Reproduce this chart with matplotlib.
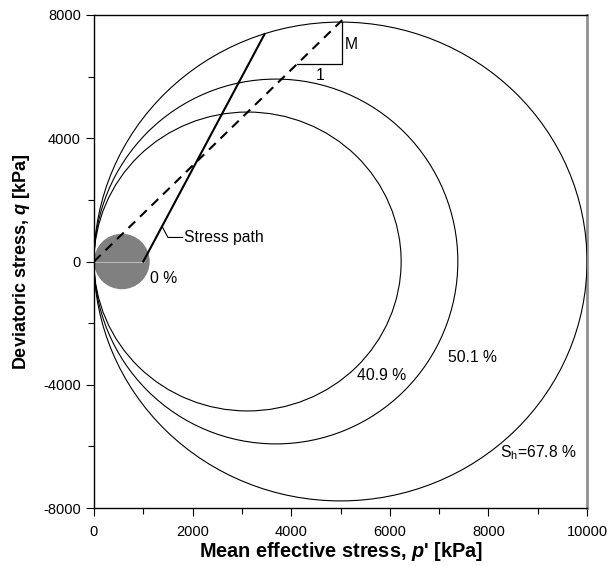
import numpy as np
import matplotlib
matplotlib.use("Agg")
import matplotlib.pyplot as plt
from matplotlib.patches import Ellipse

plt.rcParams['font.family'] = ['Liberation Sans', 'DejaVu Sans']
plt.rcParams['mathtext.fontset'] = 'custom'
plt.rcParams['mathtext.rm'] = 'Liberation Sans'
plt.rcParams['mathtext.bfit'] = 'Liberation Sans:bold:italic'

# Yield surfaces: preconsolidation pressure p0 [kPa] and peak deviatoric stress [kPa]
labels = ["0 %", "40.9 %", "50.1 %", "S$_\\mathregular{h}$=67.8 %"]
p0_values = [1130, 6230, 7380, 10000]
qmax_values = [900, 4850, 5920, 7770]
label_p = [1140, 5330, 7180, 8230]
label_q = [-560, -3700, -3120, -6200]

# Critical state line slope and its end
M_slope = 1.556
csl_p_end = 5070

# Stress path (triaxial, slope 3)
path_p = [1000, 3460]
path_q = [0, 7380]

# slope triangle
tri_p = [4120, 5030, 5030]
tri_q = [6420, 6420, 7770]

fig = plt.figure(figsize=(6.11, 5.66), dpi=100)
ax = fig.add_axes([94/611, 1-508/566, 493/611, 493/566])

for i, (p0, qm) in enumerate(zip(p0_values, qmax_values)):
    if i == 0:
        e = Ellipse((p0/2, 0), p0, 2*qm, facecolor='#808080', edgecolor='none', zorder=1)
        ax.add_patch(e)
        ax.plot([0, p0*0.9], [0, 0], color='#b8b8b8', lw=0.8, zorder=2)
    else:
        e = Ellipse((p0/2, 0), p0, 2*qm, facecolor='none', edgecolor='black', lw=0.8, zorder=3)
        ax.add_patch(e)

for t, x, y in zip(labels, label_p, label_q):
    ax.text(x, y, t, fontsize=11.3, ha='left', va='center', zorder=5)

# CSL
ax.plot([0, csl_p_end], [0, M_slope*csl_p_end], color='black', lw=1.5,
        dashes=(4.5, 3.2), zorder=4)
# stress path
ax.plot(path_p, path_q, color='black', lw=1.5, zorder=4)
# slope triangle
ax.plot(tri_p, tri_q, color='black', lw=0.9, zorder=4)
ax.text(5080, 7050, "M", fontsize=11.3, ha='left', va='center')
ax.text(4590, 6050, "1", fontsize=11.3, ha='center', va='center')

# stress path label
ax.plot([1380, 1500, 1800], [1140, 780, 780], color='black', lw=0.8, zorder=4)
ax.text(1820, 780, "Stress path", fontsize=11.3, ha='left', va='center')

ax.set_xlim(0, 10000)
ax.set_ylim(-8000, 8000)
ax.set_xticks(np.arange(0, 10001, 2000))
ax.set_xticks(np.arange(0, 10001, 1000), minor=True)
ax.set_yticks(np.arange(-8000, 8001, 4000))
ax.set_yticks(np.arange(-8000, 8001, 2000), minor=True)
ax.tick_params(which='both', direction='out', labelsize=10.5, width=0.8)
ax.tick_params(which='major', length=6)
ax.tick_params(which='minor', length=4)
ax.tick_params(axis='x', pad=6)
ax.set_yticklabels([f"{v}" for v in range(-8000, 8001, 4000)])

for s in ['left', 'bottom', 'top']:
    ax.spines[s].set_linewidth(1.0)
ax.spines['right'].set_color('#909090')
ax.spines['right'].set_linewidth(2.0)

ax.set_xlabel("Mean effective stress, $\\mathbfit{p}$' [kPa]", fontsize=14.3, fontweight='bold', labelpad=1)
ax.set_ylabel("Deviatoric stress, $\\mathbfit{q}$ [kPa]", fontsize=13, fontweight='bold', labelpad=8)

fig.savefig("out.png", dpi=100)
